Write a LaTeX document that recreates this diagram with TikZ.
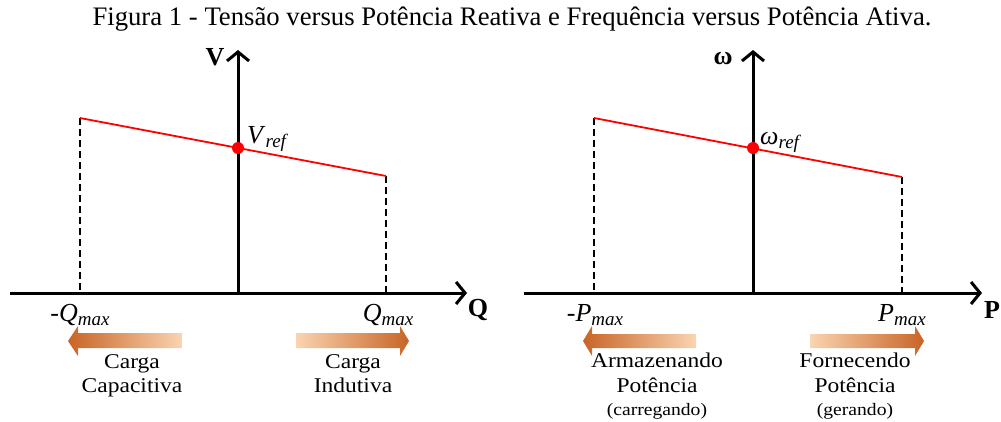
\documentclass[tikz,border=0pt]{standalone}
\usepackage{fontspec}
\setmainfont{Liberation Serif}
\newfontfamily\widefont[FakeStretch=1.12]{Liberation Serif}
\usetikzlibrary{positioning,arrows.meta}
\definecolor{tipcolor}{RGB}{200,100,38}
\definecolor{tailcolor}{RGB}{250,212,176}
\newcommand{\qty}[2]{{\fontsize{26}{26}\selectfont\textit{#1}}\raisebox{-4pt}{\fontsize{19}{19}\selectfont\textit{#2}}}
\tikzset{
x=1pt, y=-1pt,
axis/.style={line width=3pt, -{Straight Barb[length=9pt,width=22pt,line width=3pt]}},
limit/.style={line width=1.4pt, dash pattern=on 7pt off 4pt},
droop/.style={red, line width=1.8pt},
refdot/.style={circle, fill=red, inner sep=0pt, minimum size=12pt},
lbl/.style={font=\fontsize{26}{26}\selectfont, inner sep=0pt},
axlbl/.style={font=\fontsize{26}{26}\selectfont\bfseries, inner sep=0pt},
note/.style={font=\widefont\fontsize{21}{24.5}\selectfont, align=center, inner sep=0pt, anchor=north},
small/.style={font=\widefont\fontsize{17.5}{20}\selectfont, inner sep=0pt},
}

\begin{document}
\begin{tikzpicture}
        \useasboundingbox (0,0) rectangle (1001,421);
        \node[font=\fontsize{26.7}{30}\selectfont, inner sep=0pt, anchor=base] (title) at (512,25)
            {Figura 1 - Tensão versus Potência Reativa e Frequência versus Potência Ativa.};

        % V x Q
        \coordinate (o1) at (238,293);
        \coordinate (q0) at (10,293);
        \coordinate (q1) at (467,293);
        \coordinate (v1) at (238,50);
        \coordinate (qa) at (80,118);
        \coordinate (qb) at (386,176);
        \coordinate (qa0) at (80,293);
        \coordinate (qb0) at (386,293);
        \draw[axis] (q0) -- (q1);
        \draw[axis] (o1) -- (v1);
        \draw[limit] (qa) -- (qa0);
        \draw[limit] (qb) -- (qb0);
        \draw[droop] (qa) -- (qb);
        \node[refdot] (vref) at (238,148) {};
        \node[lbl, anchor=base west] (vreflbl) at (247,143) {\qty{V}{ref}};
        \node[axlbl] (vlbl) at (215,57) {V};
        \node[axlbl] (qlbl) at (478,310) {Q};
        \node[lbl, anchor=base] (qminlbl) at (80,321) {-\qty{Q}{max}};
        \node[lbl, anchor=base] (qmaxlbl) at (388,321) {\qty{Q}{max}};

        \shade[left color=tipcolor, right color=tailcolor]
            (68,341) -- (78,326) -- (78,333) -- (182,333) -- (182,348) -- (78,348) -- (78,356) -- cycle;
        \shade[left color=tailcolor, right color=tipcolor]
            (409,341) -- (400,326) -- (400,333) -- (296,333) -- (296,348) -- (400,348) -- (400,356) -- cycle;
        \node[note] (capac) at (132,354) {Carga\\Capacitiva};
        \node[note] (indut) at (353,354) {Carga\\Indutiva};

        % w x P
        \coordinate (o2) at (753,293);
        \coordinate (p0) at (524,293);
        \coordinate (p1) at (982,293);
        \coordinate (w1) at (753,50);
        \coordinate (pa) at (594,118);
        \coordinate (pb) at (902,177);
        \coordinate (pa0) at (594,293);
        \coordinate (pb0) at (902,293);
        \draw[axis] (p0) -- (p1);
        \draw[axis] (o2) -- (w1);
        \draw[limit] (pa) -- (pa0);
        \draw[limit] (pb) -- (pb0);
        \draw[droop] (pa) -- (pb);
        \node[refdot] (wref) at (753,148) {};
        \node[lbl, anchor=base west] (wreflbl) at (760,144) {\qty{ω}{ref}};
        \node[axlbl] (wlbl) at (723,59) {ω};
        \node[axlbl] (plbl) at (992,310) {P};
        \node[lbl, anchor=base] (pminlbl) at (595,321) {-\qty{P}{max}};
        \node[lbl, anchor=base] (pmaxlbl) at (902,321) {\qty{P}{max}};

        \shade[left color=tipcolor, right color=tailcolor]
            (583,341) -- (592,326) -- (592,334) -- (696,334) -- (696,348) -- (592,348) -- (592,356) -- cycle;
        \shade[left color=tailcolor, right color=tipcolor]
            (924,341) -- (915,326) -- (915,334) -- (810,334) -- (810,348) -- (915,348) -- (915,356) -- cycle;
        \node[note] (armaz) at (657,353) {Armazenando\\Potência};
        \node[small, anchor=base] (carreg) at (657,415) {(carregando)};
        \node[note] (forne) at (855,353) {Fornecendo\\Potência};
        \node[small, anchor=base] (gerand) at (855,415) {(gerando)};
\end{tikzpicture}
\end{document}
